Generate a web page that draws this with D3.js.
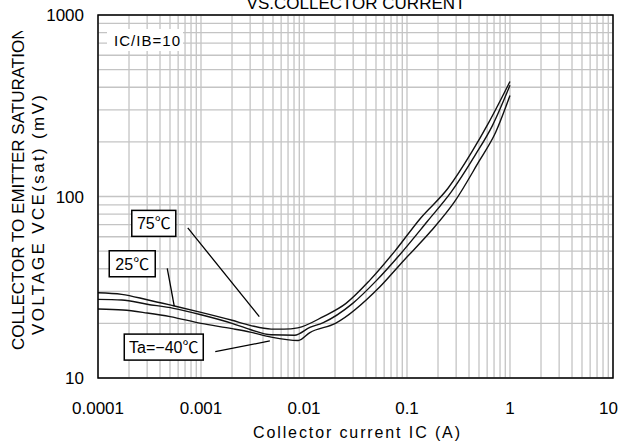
<!DOCTYPE html>
<html>
<head>
<meta charset="utf-8">
<script src="https://cdn.jsdelivr.net/npm/d3@7"></script>
<style>
  body { margin: 0; background: #fff; }
  svg { display: block; }
  text { font-family: "Liberation Sans", Arial, "Noto Sans CJK JP", sans-serif; fill: #000; }
</style>
</head>
<body>
<svg id="chart" width="619" height="447"></svg>
<script>
// collector current (A) and VCE(sat) (mV)
const ic75 = [1e-4, 1.7e-4, 3e-4, 5.4e-4, 1e-3, 2e-3, 3e-3, 4.8e-3, 6.4e-3, 8.7e-3, 0.0154, 0.0254, 0.0432, 0.0766, 0.136, 0.25, 0.426, 0.623, 1.0];
const v75  = [29.5, 28.9, 27.0, 25.0, 23.0, 20.8, 19.5, 18.6, 18.6, 18.9, 21.8, 25.7, 34.4, 50.2, 76.2, 111, 176, 256, 430];

const ic25 = [1e-4, 1.7e-4, 3e-4, 5.4e-4, 1e-3, 2e-3, 3e-3, 4.8e-3, 8.1e-3, 0.0114, 0.0154, 0.0295, 0.0504, 0.0859, 0.158, 0.269, 0.459, 0.673, 1.0];
const v25  = [27.1, 26.9, 25.5, 24.2, 22.3, 20.0, 18.5, 17.3, 17.2, 19.0, 20.2, 25.7, 34.4, 48.1, 73.1, 106, 169, 245, 410];

const icm40 = [1e-4, 1.75e-4, 3e-4, 5e-4, 1e-3, 2e-3, 3e-3, 4.8e-3, 8.8e-3, 0.0114, 0.0202, 0.0543, 0.0926, 0.171, 0.291, 0.496, 0.726, 1.0];
const vm40  = [24.0, 23.7, 22.8, 21.8, 20.0, 18.7, 17.9, 16.8, 16.1, 17.8, 20.0, 31.7, 44.3, 64.5, 94, 155, 226, 360];

const xTickLabels = ["0.0001", "0.001", "0.01", "0.1", "1", "10"];
const yTickLabels = ["10", "100", "1000"];

// annotation anchors in data space: box centre and pointer tip
const notes = [
  { text: "75℃", box: [3.48e-4, 71.1], w: 44, tip: [3.68e-3, 21.8] },
  { text: "25℃", box: [2.15e-4, 42.6], w: 46, tip: [5.5e-4, 24.9] },
  { text: "Ta=−40℃", box: [4.35e-4, 14.8], w: 79, tip: [4.66e-3, 16.0] }
];

const svg = d3.select("#chart");
const mLeft = 98, mRight = 613, mTop = 15, mBottom = 378;

const x = d3.scaleLog().domain([1e-4, 10]).range([mLeft, mRight]);
const y = d3.scaleLog().domain([10, 1000]).range([mBottom, mTop]);

// grid
svg.append("g").selectAll("line")
  .data(x.ticks())
  .join("line")
  .attr("x1", d => x(d)).attr("x2", d => x(d))
  .attr("y1", mTop).attr("y2", mBottom)
  .attr("stroke", "#c4c4c4").attr("stroke-width", 1.3);

svg.append("g").selectAll("line")
  .data(y.ticks())
  .join("line")
  .attr("y1", d => y(d)).attr("y2", d => y(d))
  .attr("x1", mLeft).attr("x2", mRight)
  .attr("stroke", "#c4c4c4").attr("stroke-width", 1.3);

// IC/IB note sits on a white patch
svg.append("rect").attr("x", 107).attr("y", 29).attr("width", 76).attr("height", 22).attr("fill", "#fff");
svg.append("text").attr("x", 114).attr("y", 46)
  .attr("font-size", 15).attr("textLength", 66).attr("lengthAdjust", "spacing")
  .text("IC/IB=10");

// curves
const line = d3.line().x(d => x(d[0])).y(d => y(d[1])).curve(d3.curveMonotoneX);
const series = [d3.zip(ic75, v75), d3.zip(ic25, v25), d3.zip(icm40, vm40)];
svg.append("g").selectAll("path")
  .data(series)
  .join("path")
  .attr("d", line)
  .attr("fill", "none")
  .attr("stroke", "#111")
  .attr("stroke-width", 1.4);

// labels with pointers
const ng = svg.append("g").selectAll("g").data(notes).join("g");
ng.append("line")
  .attr("x1", d => x(d.box[0]) + d.w / 2 + 12)
  .attr("y1", d => y(d.box[1]) + 4.5)
  .attr("x2", d => x(d.tip[0]))
  .attr("y2", d => y(d.tip[1]))
  .attr("stroke", "#000").attr("stroke-width", 1.3);
ng.append("rect")
  .attr("x", d => x(d.box[0]) - d.w / 2)
  .attr("y", d => y(d.box[1]) - 13)
  .attr("width", d => d.w).attr("height", 26)
  .attr("fill", "#fff").attr("stroke", "#000").attr("stroke-width", 1.5);
ng.append("text")
  .attr("x", d => x(d.box[0]))
  .attr("y", d => y(d.box[1]) + 6)
  .attr("text-anchor", "middle")
  .attr("font-size", 16)
  .text(d => d.text);

// frame
svg.append("rect")
  .attr("x", mLeft).attr("y", mTop)
  .attr("width", mRight - mLeft).attr("height", mBottom - mTop)
  .attr("fill", "none").attr("stroke", "#000").attr("stroke-width", 1.5);

// tick labels
svg.append("g").selectAll("text")
  .data(xTickLabels)
  .join("text")
  .attr("x", (d, i) => i === xTickLabels.length - 1 ? 618 : x(+d))
  .attr("y", 414)
  .attr("text-anchor", (d, i) => i === xTickLabels.length - 1 ? "end" : "middle")
  .attr("font-size", 17)
  .text(d => d);

svg.append("g").selectAll("text")
  .data(yTickLabels)
  .join("text")
  .attr("x", 84)
  .attr("y", d => y(+d) + 6)
  .attr("text-anchor", "end")
  .attr("font-size", 17)
  .text(d => d);

// titles
svg.append("text").attr("x", 356).attr("y", 9)
  .attr("text-anchor", "middle").attr("font-size", 17)
  .text("VS.COLLECTOR CURRENT");

svg.append("text").attr("x", 253).attr("y", 438)
  .attr("font-size", 16).attr("textLength", 207).attr("lengthAdjust", "spacing")
  .text("Collector current IC (A)");

svg.append("clipPath").attr("id", "yclip")
  .append("rect").attr("x", 0).attr("y", 31).attr("width", 60).attr("height", 420);

const yl = svg.append("g").attr("clip-path", "url(#yclip)");
yl.append("text")
  .attr("transform", "translate(24,350) rotate(-90)")
  .attr("font-size", 17)
  .text("COLLECTOR TO EMITTER SATURATION");
yl.append("text")
  .attr("transform", "translate(44,335) rotate(-90)")
  .attr("font-size", 17).attr("textLength", 240).attr("lengthAdjust", "spacing")
  .text("VOLTAGE VCE(sat) (mV)");
</script>
</body>
</html>
